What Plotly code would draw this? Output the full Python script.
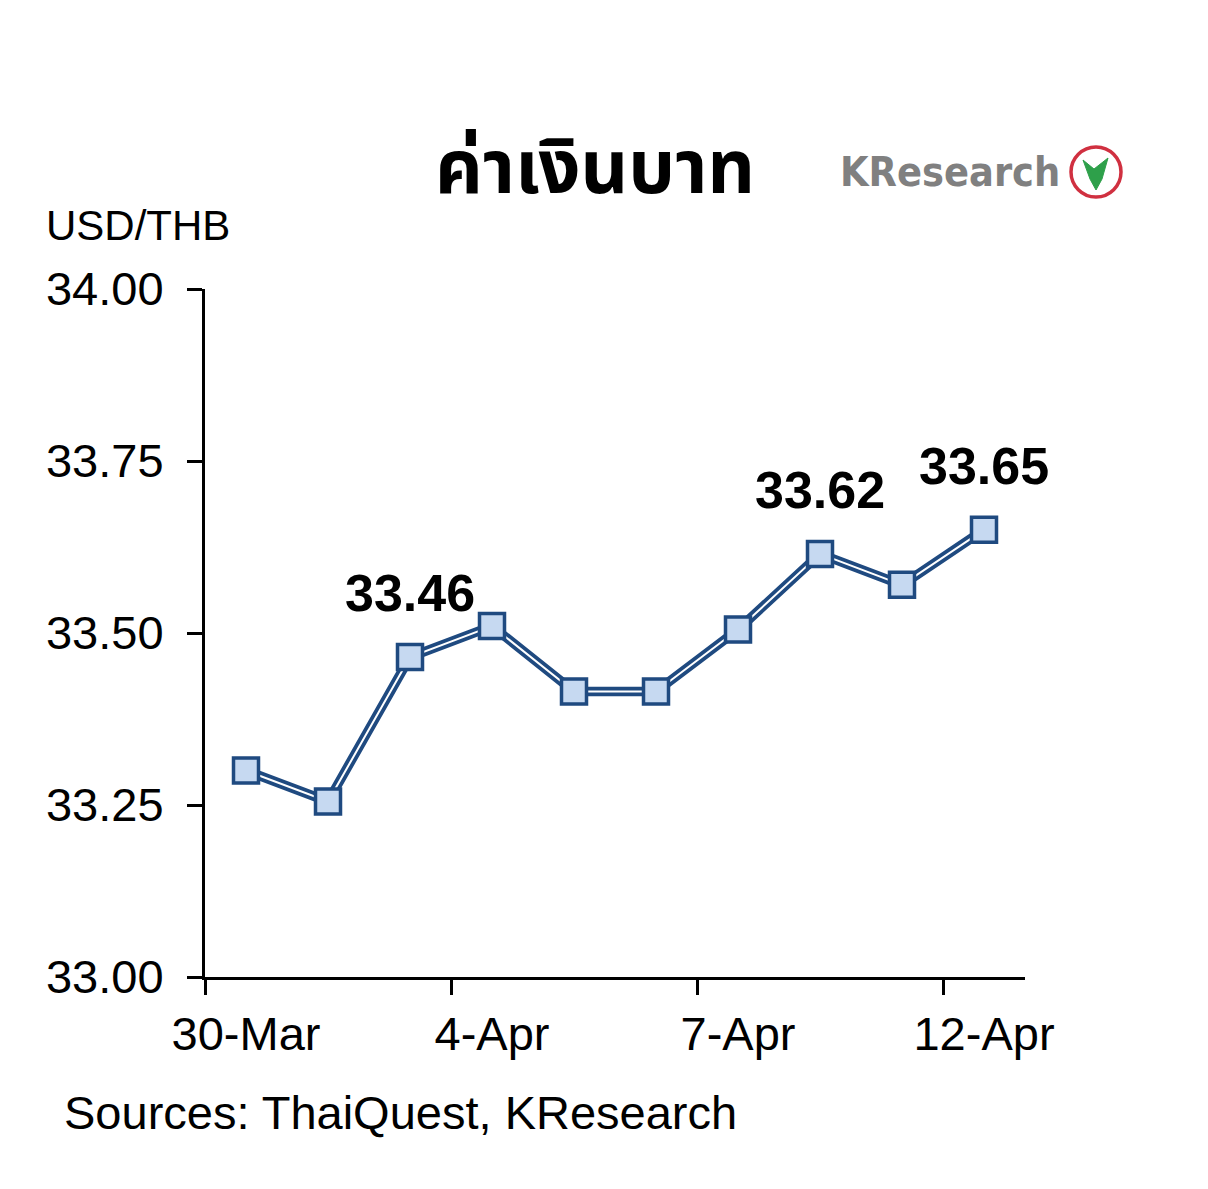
import plotly.graph_objects as go

dates = ["30-Mar", "31-Mar", "1-Apr", "4-Apr", "5-Apr", "6-Apr", "7-Apr", "8-Apr", "11-Apr", "12-Apr"]
usd_thb = [33.30, 33.255, 33.465, 33.51, 33.415, 33.415, 33.505, 33.615, 33.57, 33.65]
labeled_idx = [2, 7, 9]
label_text = ["33.46", "33.62", "33.65"]
y_ticks = [33.00, 33.25, 33.50, 33.75, 34.00]

OFF = 8  # default body margin of the html page
W, H = 1208 - OFF, 1189 - OFF
L, R, T, B = 205, 1025, 289, 977  # plot area in page pixels
DARK = "#1f4a80"
FILL = "#c6d9f1"
FONT = "Liberation Sans, Arial, sans-serif"

fig = go.Figure()
fig.add_trace(go.Scatter(x=dates, y=usd_thb, mode="lines",
                         line=dict(color=DARK, width=9.5), hoverinfo="skip"))
fig.add_trace(go.Scatter(x=dates, y=usd_thb, mode="lines",
                         line=dict(color="white", width=2), hoverinfo="skip"))
fig.add_trace(go.Scatter(x=dates, y=usd_thb, mode="markers",
                         marker=dict(symbol="square", size=25, color=FILL,
                                     line=dict(color=DARK, width=3.5))))

for i, t in zip(labeled_idx, label_text):
    fig.add_annotation(x=dates[i], y=usd_thb[i], text=t, showarrow=False,
                       yshift=64, font=dict(family=FONT, size=52, color="black", weight="bold"))

def px(x):
    return (x - L) / (R - L)

def py(y):
    return (B - y) / (B - T)

fig.add_annotation(xref="paper", yref="paper", x=px(595), y=py(170), text="<b>ค่าเงินบาท</b>",
                   showarrow=False, xanchor="center", yanchor="middle",
                   font=dict(family="Noto Sans Thai, Loma, Noto Sans, sans-serif", size=74, color="black"))
fig.add_annotation(xref="paper", yref="paper", x=px(44), y=py(226), text="USD/THB",
                   showarrow=False, xanchor="left", yanchor="middle",
                   font=dict(family=FONT, size=42, color="black"))
fig.add_annotation(xref="paper", yref="paper", x=px(62), y=py(1112), text="Sources: ThaiQuest, KResearch",
                   showarrow=False, xanchor="left", yanchor="middle",
                   font=dict(family=FONT, size=47, color="black"))
# logo
fig.add_annotation(xref="paper", yref="paper", x=px(838), y=py(172), text="<b>KResearch</b>",
                   showarrow=False, xanchor="left", yanchor="middle",
                   font=dict(family="DejaVu Sans Condensed, DejaVu Sans, sans-serif", size=41, color="#808080"))
fig.add_shape(type="circle", xref="paper", yref="paper",
              x0=px(1071), x1=px(1121), y0=py(197), y1=py(147),
              line=dict(color="#d03040", width=3.5), fillcolor="white")
fig.add_shape(type="path", xref="paper", yref="paper",
              path=f"M {px(1083)} {py(160)} L {px(1094)} {py(169)} L {px(1108)} {py(158)} "
                   f"L {px(1102)} {py(179)} L {px(1096)} {py(190)} L {px(1090)} {py(179)} Z",
              line=dict(color="#2ea04a", width=1), fillcolor="#2ea04a")

fig.update_xaxes(type="category", range=[-0.5, 9.5], tickson="boundaries", dtick=3,
                 tickangle=0,
                 showline=True, linecolor="black", linewidth=3,
                 ticks="outside", ticklen=15, tickwidth=3, tickcolor="black",
                 tickfont=dict(family=FONT, size=47, color="black"),
                 ticklabelstandoff=14,
                 showgrid=False, zeroline=False, fixedrange=True)
fig.update_yaxes(range=[33, 34], tickvals=y_ticks, tickformat=".2f",
                 showline=True, linecolor="black", linewidth=3,
                 ticks="outside", ticklen=15, tickwidth=3, tickcolor="black",
                 tickfont=dict(family=FONT, size=47, color="black"),
                 ticklabelstandoff=14,
                 showgrid=False, zeroline=False, fixedrange=True)

fig.update_layout(width=W, height=H, showlegend=False,
                  margin=dict(l=L - OFF, r=(W + OFF) - R, t=T - OFF, b=(H + OFF) - B, autoexpand=False),
                  paper_bgcolor="white", plot_bgcolor="white")

fig.write_html("out.html")
